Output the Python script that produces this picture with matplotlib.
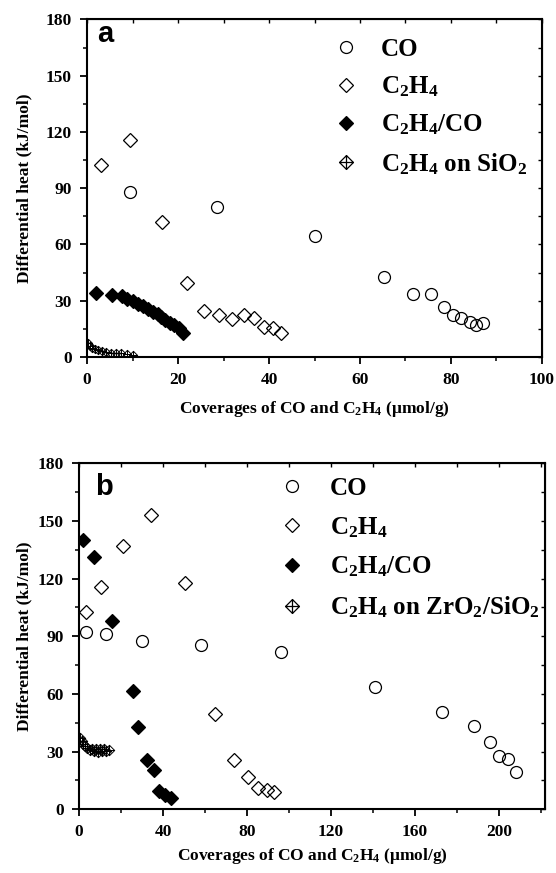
import matplotlib
matplotlib.use("Agg")
import matplotlib.pyplot as plt
from matplotlib.path import Path
from matplotlib.ticker import MultipleLocator
from matplotlib.font_manager import FontProperties

plt.rcParams['font.family'] = ['Liberation Serif', 'DejaVu Serif']
plt.rcParams['font.weight'] = 'bold'
plt.rcParams['mathtext.fontset'] = 'custom'
plt.rcParams['mathtext.rm'] = 'Liberation Serif:bold'
plt.rcParams['mathtext.it'] = 'Liberation Serif:bold'
plt.rcParams['mathtext.bf'] = 'Liberation Serif:bold'

# ---------------- data: panel a ----------------
a_co_x = [9.4, 28.5, 50.0, 65.3, 71.6, 75.6, 78.4, 80.4, 82.3, 84.2, 85.6, 87.0]
a_co_y = [88.0, 80.2, 64.4, 42.5, 33.6, 33.6, 26.5, 22.4, 20.6, 18.8, 17.0, 18.3]
a_c2h4_x = [3.1, 9.4, 16.4, 22.0, 25.8, 28.9, 31.8, 34.6, 36.8, 38.9, 40.9, 42.6]
a_c2h4_y = [102.4, 115.7, 72.2, 39.6, 24.5, 22.2, 20.1, 22.2, 20.6, 15.8, 15.3, 12.6]
a_mix_x = [2.0, 5.5, 7.6, 8.8, 10.0, 11.2, 12.3, 13.3, 14.5, 15.5, 16.3, 17.2, 18.2, 19.2, 20.2, 21.0]
a_mix_y = [34.0, 32.8, 32.3, 31.0, 29.8, 28.5, 27.0, 25.5, 24.0, 23.0, 21.3, 19.8, 18.2, 16.8, 15.2, 13.0]
a_sio2_x = [0.3, 0.7, 1.2, 1.8, 2.5, 3.3, 4.2, 5.2, 6.3, 7.5, 8.7, 10.0]
a_sio2_y = [7.5, 6.0, 5.0, 4.2, 3.5, 3.0, 2.6, 2.3, 2.1, 2.0, 1.8, 1.2]
a_xticks = [0, 20, 40, 60, 80, 100]

# ---------------- data: panel b ----------------
b_co_x = [3.2, 12.7, 30.1, 58.2, 96.0, 141.0, 173.0, 188.0, 196.0, 200.0, 204.6, 208.4]
b_co_y = [92.1, 91.2, 87.7, 85.5, 82.0, 63.8, 50.8, 43.3, 35.2, 27.9, 26.0, 19.6]
b_c2h4_x = [3.2, 10.5, 21.1, 34.3, 50.5, 64.8, 74.0, 80.3, 85.4, 89.4, 93.0]
b_c2h4_y = [102.8, 115.5, 137.2, 153.3, 117.9, 49.6, 25.6, 17.0, 10.9, 10.0, 9.2]
b_mix_x = [2.0, 7.3, 15.6, 25.6, 28.2, 32.2, 35.6, 38.2, 41.0, 43.7]
b_mix_y = [140.1, 131.4, 98.0, 61.5, 43.0, 25.6, 20.4, 9.5, 7.4, 5.7]
b_zr_x = [0.5, 1.2, 2.0, 3.0, 4.0, 5.0, 6.0, 7.0, 8.0, 9.0, 10.0, 11.0, 12.0, 13.0, 14.5]
b_zr_y = [37.0, 35.5, 34.0, 33.0, 32.0, 31.0, 31.5, 30.5, 31.5, 30.0, 31.5, 30.5, 31.5, 30.5, 31.0]
b_xticks = [0, 40, 80, 120, 160, 200]

yticks = [0, 30, 60, 90, 120, 150, 180]

lbl_co = 'CO'
lbl_c2h4 = r'C$_2$H$_4$'
lbl_mix = r'C$_2$H$_4$/CO'
lbl_a4 = r'C$_2$H$_4$ on SiO$_2$'
lbl_b4 = r'C$_2$H$_4$ on ZrO$_2$/SiO$_2$'

# crossed diamond marker
cross_diamond = Path(
    [(0, 1), (1, 0), (0, -1), (-1, 0), (0, 1), (0, 1), (0, -1), (-1, 0), (1, 0)],
    [Path.MOVETO, Path.LINETO, Path.LINETO, Path.LINETO, Path.CLOSEPOLY,
     Path.MOVETO, Path.LINETO, Path.MOVETO, Path.LINETO])

fig = plt.figure(figsize=(5.56, 8.73), dpi=100)
ax_a = fig.add_axes([0.1565, 0.5911, 0.9748 - 0.1565, 0.9777 - 0.5911])
ax_b = fig.add_axes([0.1421, 0.0730, 0.9802 - 0.1421, 0.4693 - 0.0730])

TICKFS = 12.5
LABFS = 12.5
LEGFS = 18


def style(ax, xlim, xmin, xticks):
    ax.set_xlim(*xlim)
    ax.set_ylim(0, 180)
    ax.set_xticks(xticks)
    ax.set_yticks(yticks)
    ax.xaxis.set_minor_locator(MultipleLocator(xmin))
    ax.yaxis.set_minor_locator(MultipleLocator(15))
    for s in ax.spines.values():
        s.set_linewidth(1.5)
    ax.tick_params(which='major', direction='out', length=5, width=1.3,
                   labelsize=TICKFS)
    ax.tick_params(axis='x', which='major', pad=5.5)
    ax.tick_params(axis='y', which='major', pad=6)
    ax.tick_params(which='minor', direction='out', length=3, width=1.1)
    for t in ax.get_xticklabels() + ax.get_yticklabels():
        t.set_fontweight('bold')
    # inward ticks on top / right
    top = ax.secondary_xaxis('top')
    top.set_xticks(xticks)
    top.xaxis.set_minor_locator(MultipleLocator(xmin))
    top.tick_params(which='both', direction='in', length=3, width=1.0, labeltop=False)
    right = ax.secondary_yaxis('right')
    right.set_yticks(yticks)
    right.yaxis.set_minor_locator(MultipleLocator(15))
    right.tick_params(which='both', direction='in', length=3, width=1.0, labelright=False)


MS_O = 8.6
MS_D = 7.2
MEW = 0.9

for ax, d, xl, xmin, xt, lab4, csize in [
    (ax_a, (a_co_x, a_co_y, a_c2h4_x, a_c2h4_y, a_mix_x, a_mix_y, a_sio2_x, a_sio2_y),
     (0, 100), 10, a_xticks, lbl_a4, 6.0),
    (ax_b, (b_co_x, b_co_y, b_c2h4_x, b_c2h4_y, b_mix_x, b_mix_y, b_zr_x, b_zr_y),
     (0, 222), 20, b_xticks, lbl_b4, 7.5)]:
    style(ax, xl, xmin, xt)
    ax.plot(d[0], d[1], 'o', ms=MS_O, mfc='none', mec='black', mew=MEW, ls='none', label=lbl_co)
    ax.plot(d[2], d[3], 'D', ms=MS_D, mfc='none', mec='black', mew=MEW, ls='none', label=lbl_c2h4)
    ax.plot(d[4], d[5], 'D', ms=MS_D, mfc='black', mec='black', mew=MEW, ls='none', label=lbl_mix)
    ax.plot(d[6], d[7], marker=cross_diamond, ms=csize, mfc='none', mec='black',
            mew=0.7, ls='none', label=lab4)
    ax.set_ylabel('Differential heat (kJ/mol)', fontsize=LABFS, fontweight='bold')
    ax.set_xlabel(r'Coverages of CO and C$_2$H$_4$ ($\mathregular{\mu}$mol/g)',
                  fontsize=LABFS, fontweight='bold')

legprop = FontProperties(family='Liberation Serif', weight='bold', size=LEGFS)
la = ax_a.legend(loc='upper left', bbox_to_anchor=(0.542, 0.946), frameon=False,
                 prop=legprop, handlelength=1.0, handletextpad=0.9, labelspacing=0.55,
                 borderpad=0, borderaxespad=0)
lb = ax_b.legend(loc='upper left', bbox_to_anchor=(0.431, 0.960), frameon=False,
                 prop=legprop, handlelength=1.0, handletextpad=1.0, labelspacing=0.6,
                 borderpad=0, borderaxespad=0)
for leg in (la, lb):
    hl = leg.legend_handles[3]
    hl.set_markersize(10.0)
    hl.set_markeredgewidth(0.9)

ax_a.yaxis.set_label_coords(-0.121, 0.5)
ax_b.yaxis.set_label_coords(-0.101, 0.5)
ax_a.xaxis.set_label_coords(0.5, -0.125)
ax_b.xaxis.set_label_coords(0.5, -0.105)

ax_a.text(0.022, 0.933, 'a', transform=ax_a.transAxes, fontfamily='Liberation Sans',
          fontweight='bold', fontsize=21, va='baseline', ha='left')
ax_b.text(0.034, 0.908, 'b', transform=ax_b.transAxes, fontfamily='Liberation Sans',
          fontweight='bold', fontsize=21, va='baseline', ha='left')

fig.savefig('out.png', dpi=100)
